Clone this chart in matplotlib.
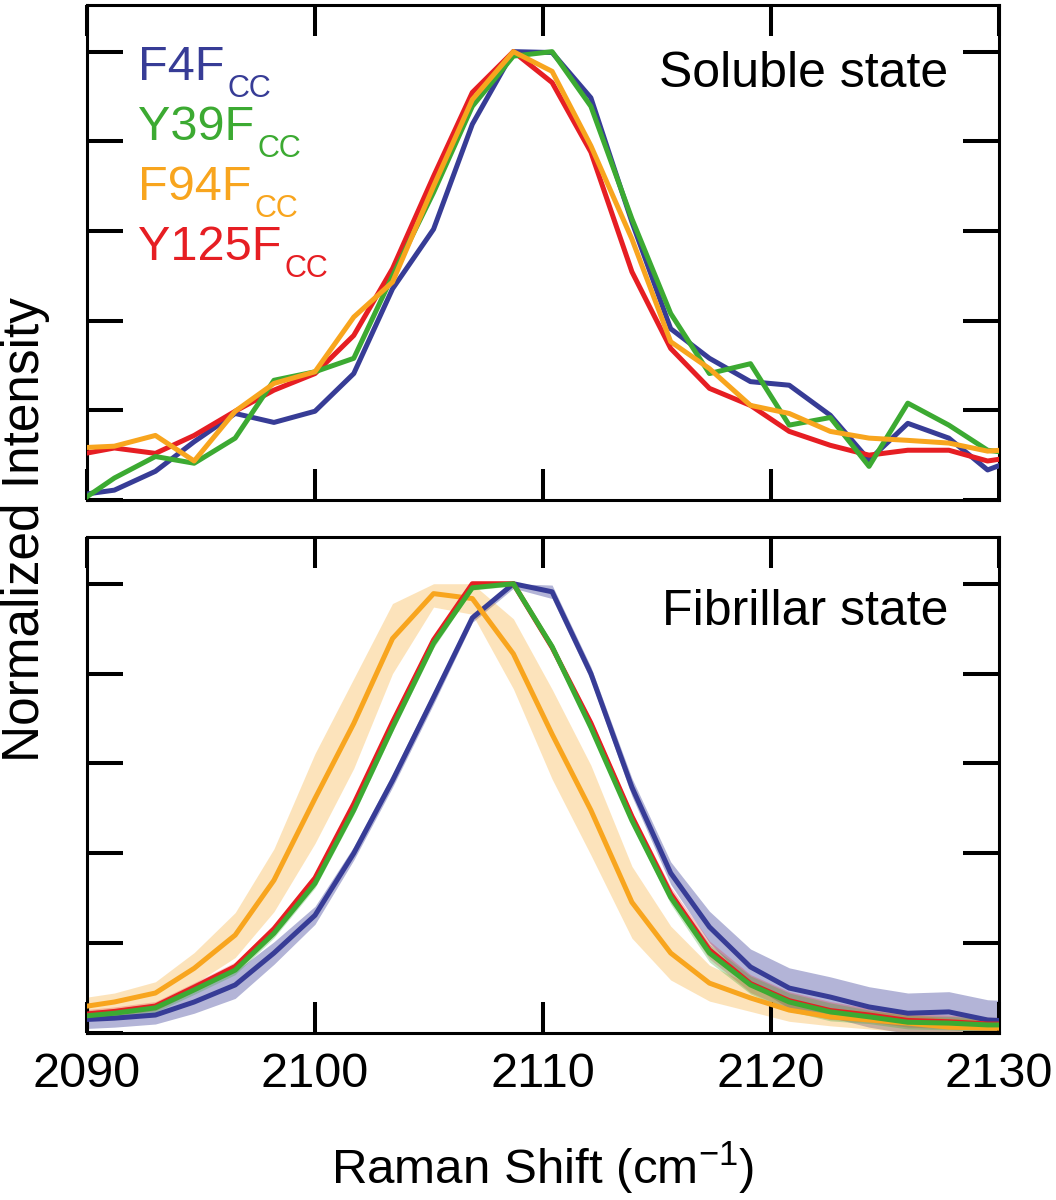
import matplotlib
matplotlib.use("Agg")
import matplotlib.pyplot as plt
import numpy as np

plt.rcParams["font.family"] = ["Liberation Sans", "DejaVu Sans"]
plt.rcParams["mathtext.default"] = "regular"

# Raman shift grid (cm-1)
shift = [2089.5, 2091.2, 2093.0, 2094.7, 2096.5, 2098.2, 2100.0, 2101.7, 2103.4,
         2105.2, 2106.9, 2108.7, 2110.4, 2112.1, 2113.9, 2115.6, 2117.3, 2119.1,
         2120.8, 2122.6, 2124.3, 2126.0, 2127.8, 2129.5, 2131.2]

# soluble state
sol_f4 = [0.01, 0.022, 0.064, 0.13, 0.193, 0.173, 0.198, 0.282, 0.471, 0.604, 0.838, 1.0,
          0.998, 0.897, 0.62, 0.382, 0.316, 0.264, 0.256, 0.189, 0.089, 0.171, 0.138, 0.067, 0.10]
sol_y39 = [-0.01, 0.049, 0.097, 0.082, 0.138, 0.267, 0.286, 0.316, 0.50, 0.686, 0.878, 0.99,
           1.0, 0.878, 0.627, 0.416, 0.282, 0.304, 0.167, 0.184, 0.075, 0.216, 0.167, 0.111, 0.10]
sol_f94 = [0.116, 0.12, 0.144, 0.087, 0.198, 0.26, 0.286, 0.408, 0.486, 0.70, 0.893, 1.0,
           0.956, 0.79, 0.582, 0.353, 0.293, 0.211, 0.193, 0.153, 0.138, 0.133, 0.127, 0.109, 0.115]
sol_y125 = [0.10, 0.116, 0.104, 0.144, 0.198, 0.245, 0.282, 0.367, 0.516, 0.722, 0.909, 1.0,
            0.931, 0.776, 0.509, 0.338, 0.249, 0.211, 0.153, 0.122, 0.10, 0.111, 0.111, 0.087, 0.10]

# fibrillar state (mean and spread)
fib_f4 = [0.029, 0.033, 0.04, 0.069, 0.107, 0.178, 0.262, 0.40, 0.562, 0.747, 0.924, 1.0,
          0.982, 0.80, 0.547, 0.356, 0.236, 0.147, 0.10, 0.08, 0.058, 0.044, 0.047, 0.029, 0.025]
fib_f4_sd = [0.02, 0.02, 0.02, 0.025, 0.03, 0.025, 0.02, 0.015, 0.015, 0.015, 0.01, 0.01,
             0.015, 0.015, 0.02, 0.025, 0.035, 0.04, 0.045, 0.045, 0.045, 0.045, 0.045, 0.045, 0.045]
fib_y39 = [0.036, 0.044, 0.056, 0.096, 0.14, 0.222, 0.333, 0.496, 0.68, 0.867, 0.991, 1.0,
           0.86, 0.68, 0.473, 0.302, 0.178, 0.107, 0.069, 0.047, 0.036, 0.024, 0.022, 0.018, 0.018]
fib_y39_sd = [0.01, 0.01, 0.01, 0.01, 0.01, 0.01, 0.01, 0.01, 0.01, 0.01, 0.005, 0.005,
              0.01, 0.01, 0.01, 0.015, 0.02, 0.02, 0.02, 0.02, 0.015, 0.015, 0.015, 0.015, 0.015]
fib_f94 = [0.056, 0.069, 0.089, 0.144, 0.218, 0.34, 0.522, 0.689, 0.878, 0.978, 0.967, 0.844,
           0.665, 0.496, 0.291, 0.178, 0.111, 0.078, 0.051, 0.036, 0.029, 0.022, 0.013, 0.011, 0.01]
fib_f94_sd = [0.02, 0.02, 0.025, 0.035, 0.05, 0.07, 0.1, 0.1, 0.078, 0.03, 0.035, 0.078,
              0.1, 0.1, 0.08, 0.06, 0.04, 0.03, 0.025, 0.02, 0.02, 0.02, 0.02, 0.02, 0.02]
fib_y125 = [0.04, 0.048, 0.06, 0.102, 0.148, 0.232, 0.345, 0.51, 0.692, 0.875, 1.0, 1.0,
            0.858, 0.69, 0.482, 0.31, 0.185, 0.11, 0.072, 0.05, 0.04, 0.028, 0.025, 0.02, 0.02]
fib_y125_sd = [0.01, 0.01, 0.01, 0.01, 0.01, 0.01, 0.01, 0.01, 0.01, 0.01, 0.005, 0.005,
               0.01, 0.01, 0.01, 0.015, 0.02, 0.02, 0.02, 0.02, 0.015, 0.015, 0.015, 0.015, 0.015]

names = ["F4F", "Y39F", "F94F", "Y125F"]
colors = ["#373C96", "#3CAA32", "#F8A51E", "#E61E23"]

x = np.array(shift)

fig = plt.figure(figsize=(10.56, 12), dpi=100)
ax1 = fig.add_axes([87/1056, 1-500/1200, 912/1056, 495/1200])
ax2 = fig.add_axes([87/1056, 1-1033/1200, 912/1056, 496/1200])

for ax in (ax1, ax2):
    ax.set_xlim(2090, 2130)
    ax.set_ylim(0, 1.104)
    ax.set_xticks([2090, 2100, 2110, 2120, 2130])
    ax.set_yticks([0, 0.2, 0.4, 0.6, 0.8, 1.0])
    ax.set_yticklabels([])
    ax.tick_params(axis="x", direction="in", length=22, width=2.9, top=True, bottom=True,
                   labelsize=35, pad=14)
    ax.tick_params(axis="y", direction="in", length=26, width=2.9, left=True, right=True)
    for s in ax.spines.values():
        s.set_linewidth(2.2)

ax1.set_xticklabels([])

lw = 3.6
# soluble
ax1.plot(x, sol_f4, color=colors[0], lw=lw, zorder=3)
ax1.plot(x, sol_y125, color=colors[3], lw=lw, zorder=4)
ax1.plot(x, sol_y39, color=colors[1], lw=lw, zorder=5)
ax1.plot(x, sol_f94, color=colors[2], lw=lw, zorder=6)

# fibrillar
bands = [(fib_f4, fib_f4_sd, colors[0], 0.38),
         (fib_f94, fib_f94_sd, colors[2], 0.3),
         (fib_y125, fib_y125_sd, colors[3], 0.25),
         (fib_y39, fib_y39_sd, colors[1], 0.3)]
for m, sd, c, a in bands:
    m = np.array(m)
    sd = np.array(sd)
    ax2.fill_between(x, m - sd, np.minimum(m + sd, 1.0), color=c, alpha=a, lw=0, zorder=1)
ax2.plot(x, fib_f4, color=colors[0], lw=lw, zorder=3)
ax2.plot(x, fib_f94, color=colors[2], lw=lw, zorder=4)
ax2.plot(x, fib_y125, color=colors[3], lw=lw, zorder=5)
ax2.plot(x, fib_y39, color=colors[1], lw=lw, zorder=6)

# labels inside panels, subscript placed after each name
for i, (n, c) in enumerate(zip(names, colors)):
    t = ax1.text(0.056, 0.848 - i*0.1212, n, color=c, fontsize=35,
                 transform=ax1.transAxes, ha="left", va="baseline")
    ax1.annotate("CC", xy=(1, 0), xycoords=t, xytext=(2, -5), textcoords="offset points",
                 color=c, fontsize=22, ha="left", va="baseline")
ax1.text(0.944, 0.834, "Soluble state", fontsize=36, transform=ax1.transAxes,
         ha="right", va="baseline")
ax2.text(0.944, 0.823, "Fibrillar state", fontsize=36, transform=ax2.transAxes,
         ha="right", va="baseline")

fig.text(543/1056, 1-1168/1200, "Raman Shift (cm$^{-1}$)", fontsize=35.5, ha="center", va="center")
fig.text(26/1056, 1-529/1200, "Normalized Intensity", fontsize=37, rotation=90,
         ha="center", va="center")

fig.savefig("out.png", dpi=100)
